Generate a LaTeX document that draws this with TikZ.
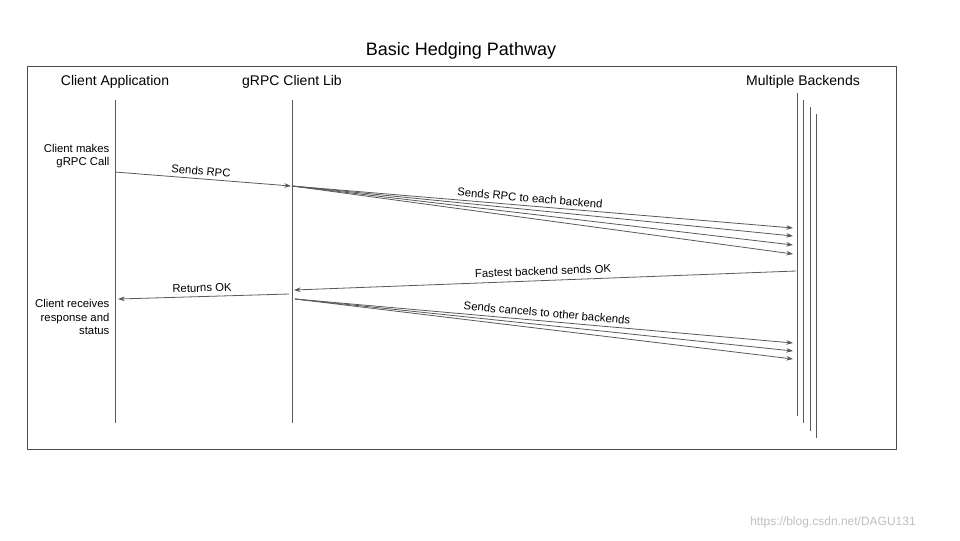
\documentclass[tikz,border=0pt]{standalone}
\usepackage{fontspec}
\setmainfont{Liberation Sans}
\usetikzlibrary{arrows.meta}
\begin{document}
\begin{tikzpicture}[x=0.75pt,y=-0.75pt,
  ln/.style={draw=black!65,line width=0.6pt},
  ar/.style={ln,-{Stealth[length=5pt,width=3.5pt]}},
  lab/.style={font=\fontsize{8.5}{10}\selectfont,inner sep=1pt},
  hd/.style={font=\fontsize{10.5}{12}\selectfont}]
\useasboundingbox (0,0) rectangle (960,540);
\draw[black!70,line width=0.6pt] (27,66) rectangle (896,449);
\node[font=\fontsize{13.5}{15}\selectfont] (title) at (461,51) {Basic Hedging Pathway};
\node[hd] (hca) at (115,82) {Client Application};
\node[hd] (hlib) at (292,82) {gRPC Client Lib};
\node[hd] (hbe) at (803,82) {Multiple Backends};
\draw[ln] (115,100) -- (115,423);
\draw[ln] (292,100) -- (292,423);
\draw[ln] (797,93) -- (797,416);
\draw[ln] (803.5,100) -- (803.5,423);
\draw[ln] (810,107) -- (810,431);
\draw[ln] (816,114) -- (816,438);
\coordinate (c1) at (115,172); \coordinate (l1) at (291,186);
\coordinate (l2) at (292,186);
\foreach \y [count=\i] in {228,236,245,254} \coordinate (b\i) at (793,\y);
\coordinate (bf) at (796,271); \coordinate (lf) at (294,290);
\coordinate (lr) at (289,294); \coordinate (cr) at (118,299);
\coordinate (lc) at (295,299);
\foreach \y [count=\i] in {343,351,359} \coordinate (k\i) at (793,\y);
\draw[ar] (c1) -- (l1);
\foreach \i in {1,...,4} \draw[ar] (l2) -- (b\i);
\draw[ar] (bf) -- (lf);
\draw[ar] (lr) -- (cr);
\foreach \i in {1,2,3} \draw[ar] (lc) -- (k\i);
\node[lab,align=right,anchor=east] (t1) at (111,156) {Client makes\\gRPC Call};
\node[lab,align=right,anchor=east] (t2) at (111,317) {Client receives\\response and\\status};
\node[lab,rotate=-4.5] (s1) at (201,171) {Sends RPC};
\node[lab,rotate=-4.8] (s2) at (530,198) {Sends RPC to each backend};
\node[lab,rotate=2.2] (s3) at (543,271) {Fastest backend sends OK};
\node[lab,rotate=1.7] (s4) at (202,288) {Returns OK};
\node[lab,rotate=-5] (s5) at (547,313) {Sends cancels to other backends};
\node[font=\fontsize{9}{10}\selectfont,text=black!25] (wm) at (833,522) {https://blog.csdn.net/DAGU131};
\end{tikzpicture}
\end{document}
